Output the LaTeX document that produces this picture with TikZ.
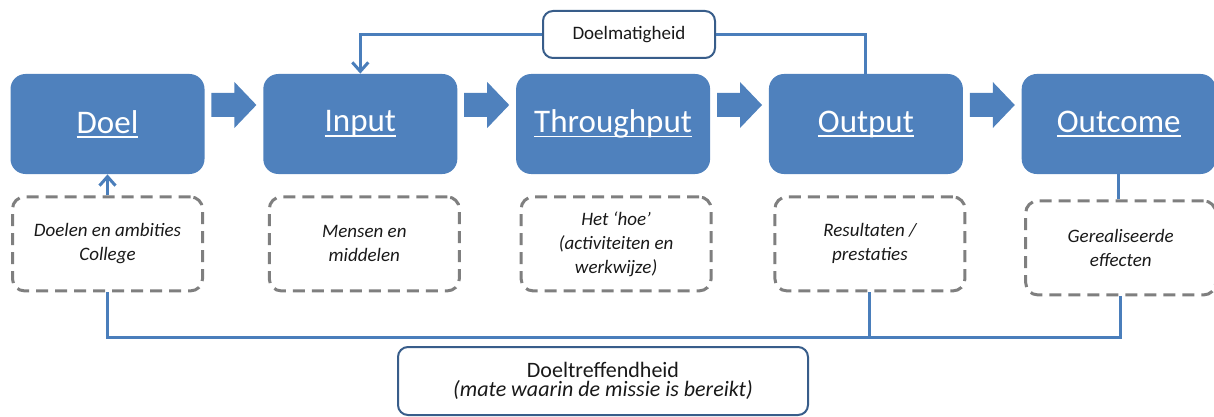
\documentclass[tikz,border=0pt]{standalone}
\usepackage{fontspec}
\setmainfont{Carlito}
\usepackage{xcolor}
\usepackage{tikz}
\usetikzlibrary{shapes,arrows,positioning,calc,arrows.meta}
\definecolor{boxblue}{HTML}{4F81BD}
\definecolor{lineblue}{HTML}{4A7EBB}
\definecolor{darkblue}{HTML}{385D8A}
\definecolor{dashgray}{HTML}{7F7F7F}
\newcommand{\ulabel}[1]{\setbox0\hbox{#1}\rlap{\rule[-2.4pt]{\wd0}{0.9pt}}\box0}

\begin{document}
\begin{tikzpicture}[x=0.5pt, y=-0.5pt, node distance=29pt,
    stage/.style={fill=boxblue, rounded corners=7.5pt, minimum width=97pt, minimum height=50pt, text=white, font=\fontsize{16.5}{20}\selectfont},
    desc/.style={draw=dashgray, dash pattern=on 6pt off 3.5pt, line width=1.5pt, rounded corners=6pt, minimum width=95pt, minimum height=47pt, align=center, text=black!90, font=\fontsize{9.5}{12}\selectfont\itshape},
    tagbox/.style={draw=darkblue, line width=1pt, fill=white, rounded corners=5pt, align=center, text=black!90, font=\fontsize{9.5}{12}\selectfont},
    flow/.style={fill=boxblue},
    link/.style={draw=lineblue, line width=1.5pt},
    linkarrow/.style={link, -{Straight Barb[length=4.5pt,width=8pt]}}]
    \useasboundingbox (0,0) rectangle (1214,417);

    \node (doel) [stage] at (107.5,124) {\ulabel{Doel}};
    \node (inp) [stage, right=of doel] {\ulabel{Input}};
    \node (thru) [stage, right=of inp] {\ulabel{Throughput}};
    \node (outp) [stage, right=of thru] {\ulabel{Output}};
    \node (outc) [stage, right=of outp] {\ulabel{Outcome}};

    \node (doelnote) [desc, below=10.5pt of doel] {Doelen en ambities\\College};
    \node (inpnote) [desc, below=10.5pt of inp, xshift=2pt] {Mensen en\\middelen};
    \node (thrunote) [desc, below=10.5pt of thru, xshift=1.5pt] {Het `hoe'\\(activiteiten en\\werkwijze)};
    \node (outpnote) [desc, below=10.5pt of outp, xshift=2pt] {Resultaten /\\prestaties};
    \node (outcnote) [desc, below=12.5pt of outc, xshift=1pt] {Gerealiseerde\\effecten};

    \node (matig) [tagbox, minimum width=86pt, minimum height=23.5pt] at (629,34.5) {Doelmatigheid};
    \node (treffend) [tagbox, minimum width=205pt, minimum height=34pt, font=\fontsize{11}{9.5}\selectfont] at (603,381) {Doeltreffendheid\\\textit{(mate waarin de missie is bereikt)}};

    % block arrows between the stages
    \foreach \a/\b in {doel/inp, inp/thru, thru/outp, outp/outc} {
        \coordinate (m) at ($(\a.east)!.5!(\b.west)+(0,-19)$);
        \fill[flow] ($(m)+(-22.5,-12)$) -- ($(m)+(0.5,-12)$) -- ($(m)+(0.5,-23)$) -- ($(m)+(22.5,0)$)
            -- ($(m)+(0.5,23)$) -- ($(m)+(0.5,12)$) -- ($(m)+(-22.5,12)$) -- cycle;
    }

    \draw[linkarrow] (doelnote.north) -- (doel.south);
    \draw[link] (outc.south) -- (outc.south |- outcnote.north);
    \draw[link] (outp.north) |- (matig.east);
    \draw[linkarrow] (matig.west) -| (inp.north);

    \coordinate (bar) at ($(doelnote.south)+(0,45)$);
    \draw[link] (doelnote.south) -- (bar) -| (outcnote.south);
    \draw[link] (outpnote.south) -- (outpnote.south |- bar);
\end{tikzpicture}
\end{document}
